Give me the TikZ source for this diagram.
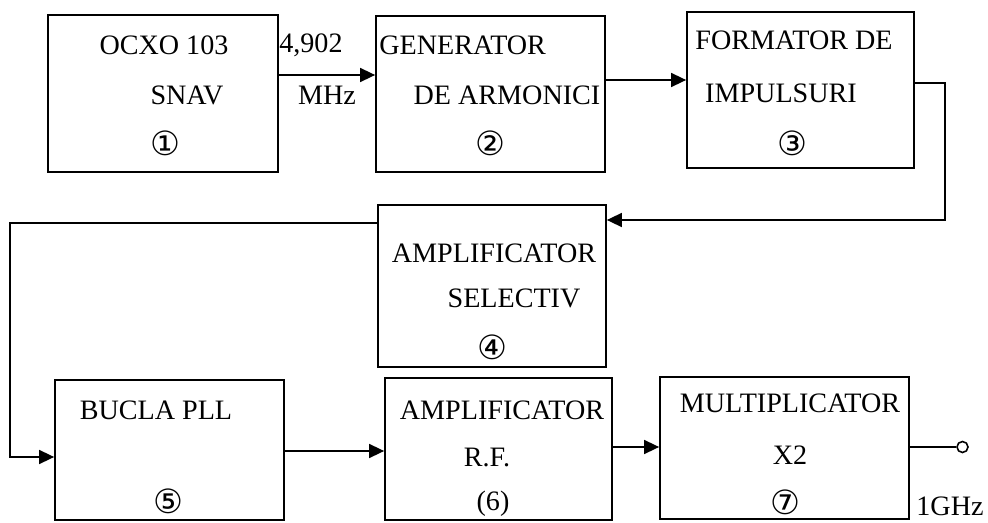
\documentclass[tikz,border=0pt]{standalone}
\usepackage{fontspec}
\setmainfont{Liberation Serif}
\newfontfamily\circfont{DejaVu Sans}
\usetikzlibrary{positioning, arrows.meta}

\begin{document}
\begin{tikzpicture}[
    block/.style = {draw=black, line width=1pt, inner sep=0pt},
    txt/.style   = {font=\fontsize{16}{19}\selectfont, inner sep=0pt},
    num/.style   = {font=\circfont\fontsize{19}{22}\selectfont, inner sep=0pt},
    link/.style  = {line width=0.9pt},
    >={Triangle[length=3mm, width=2.8mm]}
]
\useasboundingbox (0,0) rectangle (19.76,10.44);

% top row
\node[block, minimum width=4.6cm,  minimum height=3.14cm] (b1) at (3.26, 8.57)  {};
\node[block, minimum width=4.58cm, minimum height=3.12cm] (b2) at (9.81, 8.56)  {};
\node[block, minimum width=4.54cm, minimum height=3.12cm] (b3) at (16.01, 8.64) {};

% middle
\node[block, minimum width=4.56cm, minimum height=3.24cm] (b4) at (9.84, 4.72) {};

% bottom row
\node[block, minimum width=4.58cm, minimum height=2.8cm]  (b5) at (3.39, 1.44)  {};
\node[block, minimum width=4.54cm, minimum height=2.84cm] (b6) at (9.97, 1.46)  {};
\node[block, minimum width=4.98cm, minimum height=2.84cm] (b7) at (15.69, 1.48) {};

% texts of the blocks
\node[txt] (t1a) at (3.28, 9.54) {OCXO 103};
\node[txt] (t1b) at (3.74, 8.54) {SNAV};
\node[num] (n1)  at (3.30, 7.58) {①};

\node[txt, anchor=west] (t2a) at (7.58, 9.54) {GENERATOR};
\node[txt] (t2b) at (10.14, 8.54) {DE ARMONICI};
\node[num] (n2)  at (9.80, 7.58) {②};

\node[txt] (t3a) at (15.88, 9.64) {FORMATOR DE};
\node[txt] (t3b) at (15.62, 8.58) {IMPULSURI};
\node[num] (n3)  at (15.84, 7.58) {③};

\node[txt] (t4a) at (9.88, 5.38) {AMPLIFICATOR};
\node[txt] (t4b) at (10.28, 4.48) {SELECTIV};
\node[num] (n4)  at (9.84, 3.50) {④};

\node[txt] (t5a) at (3.12, 2.24) {BUCLA PLL};
\node[num] (n5)  at (3.36, 0.42) {⑤};

\node[txt] (t6a) at (10.04, 2.24) {AMPLIFICATOR};
\node[txt] (t6b) at (9.74, 1.30)  {R.F.};
\node[txt] (t6c) at (9.86, 0.36)  {(6)};

\node[txt] (t7a) at (15.8, 2.38) {MULTIPLICATOR};
\node[txt] (t7b) at (15.8, 1.34) {X2};
\node[num] (n7)  at (15.7, 0.40) {⑦};

% frequency labels
\node[txt, anchor=west] (f1) at (5.58, 9.54) {4,902};
\node[txt] (f2) at (6.54, 8.54) {MHz};
\node[txt] (f3) at (19.0, 0.32) {1GHz};

% corners of the feedback lines
\coordinate (c3a) at (18.9, 8.78);
\coordinate (c3b) at (18.9, 6.04);
\coordinate (c4a) at (0.2, 5.98);
\coordinate (c4b) at (0.2, 1.30);

% output terminal
\node[draw, circle, line width=0.9pt, minimum size=0.22cm, inner sep=0pt] (out) at (19.25, 1.50) {};

% connections
\draw[link, ->] (b1.east |- 0,8.94) -- (b2.west |- 0,8.94);
\draw[link, ->] (b2.east |- 0,8.84) -- (b3.west |- 0,8.84);
\draw[link, ->] (b3.east |- c3a) -- (c3a) -- (c3b) -- (b4.east |- c3b);
\draw[link, ->] (b4.west |- c4a) -- (c4a) -- (c4b) -- (b5.west |- c4b);
\draw[link, ->] (b5.east |- 0,1.42) -- (b6.west |- 0,1.42);
\draw[link, ->] (b6.east |- 0,1.50) -- (b7.west |- 0,1.50);
\draw[link] (b7.east |- out) -- (out);

\end{tikzpicture}
\end{document}
